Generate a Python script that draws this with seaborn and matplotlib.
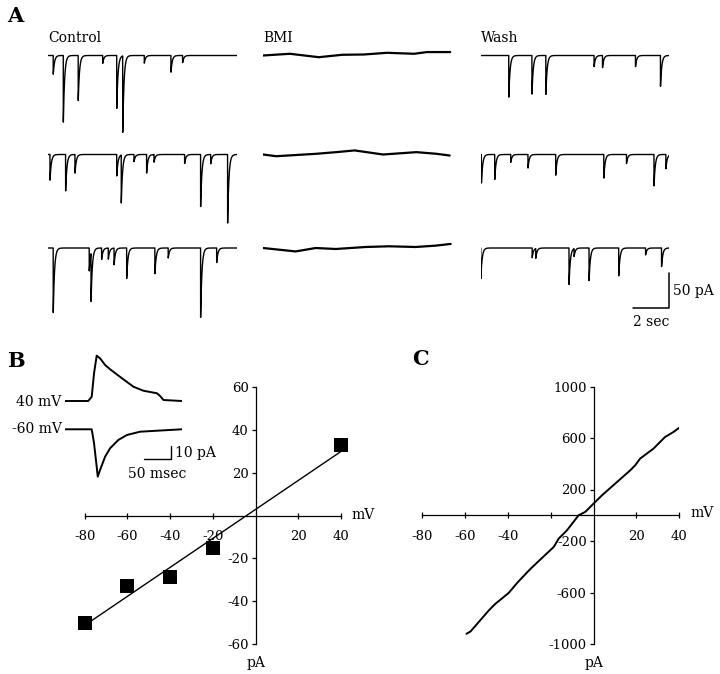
import numpy as np
import pandas as pd
import seaborn as sns
import matplotlib.pyplot as plt

# ---- panel A: synaptic events (time in s, amplitude in pA, inward)
control_times = [
    [0.29, 0.85, 1.68, 3.04, 3.82, 4.15, 5.35, 6.83, 7.48],
    [0.11, 0.98, 1.50, 3.82, 4.07, 4.78, 5.48, 5.89, 7.59, 8.48, 9.04, 9.98],
    [0.29, 2.29, 2.39, 2.98, 3.35, 3.67, 4.37, 5.94, 6.68, 8.48, 9.37],
]
control_amps = [
    [27, 96, 63, 11, 74, 110, 11, 24, 10],
    [37, 51, 26, 30, 69, 10, 26, 11, 13, 73, 13, 96],
    [93, 33, 69, 16, 16, 24, 44, 36, 14, 97, 21],
]
wash_times = [
    [1.57, 2.86, 3.63, 6.31, 6.78, 8.61, 10.0],
    [0.05, 0.79, 1.68, 2.64, 4.18, 6.85, 8.11, 9.64, 10.3],
    [0.02, 2.87, 3.07, 4.92, 5.20, 6.03, 7.68, 9.17, 10.06],
]
wash_amps = [
    [60, 54, 56, 16, 17, 16, 43],
    [41, 36, 11, 19, 29, 34, 13, 44, 20],
    [43, 14, 14, 51, 11, 47, 39, 10, 26],
]
# BMI sweeps: slow baseline wander only
bmi_times = [
    [0, 1.5, 3.1, 4.4, 5.6, 6.9, 8.4, 9.1, 10.4],
    [0, 0.74, 2.96, 4.07, 5.09, 6.67, 8.52, 9.63, 10.37],
    [0, 1.81, 2.93, 4.04, 5.7, 7.0, 8.48, 9.59, 10.43],
]
bmi_vals = [
    [0, 2.4, -2.4, 1.0, 1.4, 3.8, 2.4, 4.8, 4.8],
    [0, -2.4, 1.0, 3.3, 5.7, 0, 3.3, 1.0, -1.4],
    [0, -4.8, 0, -1.4, 1.4, 2.4, 1.4, 3.3, 5.7],
]
col_names = ["Control", "BMI", "Wash"]

# ---- panel B inset: averaged sEPSCs (ms, pA)
inset_40_t = [0, 44, 50.6, 55, 60, 66.4, 76, 85.4, 104, 129.6, 148.6, 174, 180, 186.5, 221]
inset_40_i = [0, 0, 3.2, 20.8, 34, 32, 27, 23.8, 18.2, 10.7, 7.7, 5.8, 3.8, 0.75, 0]
inset_60_t = [0, 50.6, 55, 60, 62, 66.4, 76, 85.4, 101, 117, 142, 221]
inset_60_i = [0, 0, -10.5, -28, -35.5, -30.5, -20.5, -14.2, -8, -4.3, -1.8, 0]

# ---- panel B: I-V of sEPSC amplitude
b_mv = [-80, -60, -40, -20, 40]
b_pa = [-50, -33, -28.5, -15.3, 33]

# ---- panel C: ramp I-V
c_mv = [-59.4, -57.5, -49, -45.9, -39.7, -35.8, -29.6, -23.3, -18.6, -16.3, -12.4, -7,
        -3.9, 0, 3.9, 10.9, 17.1, 19.4, 21.7, 27.9, 33.3, 37.2, 40]
c_pa = [-921, -903, -740, -688, -604, -527, -418, -319, -246, -181, -116, 0,
        26, 91, 155, 258, 349, 388, 440, 517, 607, 646, 680]

W, H = 720, 674
sns.set_theme(style="ticks")
plt.rcParams["font.family"] = ["DejaVu Serif"]
plt.rcParams["axes.unicode_minus"] = False
plt.rcParams["text.color"] = "black"
plt.rcParams["axes.edgecolor"] = "black"
plt.rcParams["xtick.color"] = "black"
plt.rcParams["ytick.color"] = "black"


def box(x0, y0, x1, y1):
    return [x0 / W, 1 - y1 / H, (x1 - x0) / W, (y1 - y0) / H]


def ftext(fig, x, y, s, **kw):
    fig.text(x / W, 1 - y / H, s, **kw)


def sweep(times, amps, tau=0.07):
    t = np.arange(0, 10.5, 0.004)
    y = np.zeros_like(t)
    for t0, a in zip(times, amps):
        m = t >= t0
        y[m] -= a * np.exp(-(t[m] - t0) / tau)
    return pd.DataFrame({"t": t, "i": y})


fig = plt.figure(figsize=(W / 100, H / 100), dpi=100)

# ---------------- panel A
px_s, px_pa = 18.0, 35.7 / 50
col_x = [48, 263, 480.5]
row_y = [55.5, 154.5, 248]
for c in range(3):
    for r in range(3):
        yb = row_y[r]
        ax = fig.add_axes(box(col_x[c], yb - 10 * px_pa, col_x[c] + 10.5 * px_s, yb + 115 * px_pa))
        if c == 1:
            df = pd.DataFrame({"t": bmi_times[r], "i": bmi_vals[r]})
            lw = 1.6
        elif c == 0:
            df = sweep(control_times[r], control_amps[r])
            lw = 1.0
        else:
            df = sweep(wash_times[r], wash_amps[r])
            lw = 1.0
        sns.lineplot(data=df, x="t", y="i", ax=ax, color="black", lw=lw,
                     estimator=None, sort=False)
        ax.set_xlim(0, 10.5)
        ax.set_ylim(-115, 10)
        ax.axis("off")
        if c == 2 and r == 2:
            xs = (669.3 - col_x[2]) / px_s
            top = -(272.7 - yb) / px_pa
            bot = -(308.3 - yb) / px_pa
            ax.plot([xs - 2, xs, xs], [bot, bot, top], color="black", lw=1.1, clip_on=False)
            ax.text(xs + 0.2, (top + bot) / 2, "50 pA", fontsize=10, va="center", ha="left")
            ax.text(xs - 1, -(322 - yb) / px_pa, "2 sec", fontsize=10, va="center", ha="center")

for name, x in zip(col_names, col_x):
    ftext(fig, x, 41.5, name, fontsize=10, va="baseline", ha="left")

ftext(fig, 7, 22, "A", fontsize=15, fontweight="bold", va="baseline")
ftext(fig, 7, 367, "B", fontsize=15, fontweight="bold", va="baseline")
ftext(fig, 412, 365, "C", fontsize=15, fontweight="bold", va="baseline")


def iv_axes(rect, xticks, xlabels, yticks, ylabels, ylim):
    ax = fig.add_axes(rect)
    ax.set_xlim(-80, 40)
    ax.set_ylim(*ylim)
    for s in ["top", "right"]:
        ax.spines[s].set_visible(False)
    ax.spines["left"].set_position(("data", 0))
    ax.spines["bottom"].set_position(("data", 0))
    ax.spines["left"].set_linewidth(0.9)
    ax.spines["bottom"].set_linewidth(0.9)
    ax.set_xticks(xticks)
    ax.set_xticklabels(xlabels)
    ax.set_yticks(yticks)
    ax.set_yticklabels(ylabels)
    ax.tick_params(axis="x", direction="inout", length=5, width=0.9, pad=8, labelsize=9.5)
    ax.tick_params(axis="y", direction="out", length=3, width=0.9, pad=2, labelsize=9.5)
    ax.set_xlabel("")
    ax.set_ylabel("")
    ax.patch.set_alpha(0)
    return ax


# ---------------- panel B
axB = iv_axes(box(84.7, 387.3, 341, 644),
              [-80, -60, -40, -20, 20, 40], ["-80", "-60", "-40", "-20", "20", "40"],
              [-60, -40, -20, 20, 40, 60], ["-60", "-40", "-20", "20", "40", "60"], (-60, 60))
sns.regplot(x=np.array(b_mv), y=np.array(b_pa), ax=axB, ci=None, marker="s",
            scatter_kws={"s": 95, "color": "black", "alpha": 1, "linewidths": 0,
                         "zorder": 3, "clip_on": False},
            line_kws={"color": "black", "lw": 1.0})
axB.set_xlabel("")
axB.set_ylabel("")
ftext(fig, 351, 515, "mV", fontsize=10, va="center", ha="left")
ftext(fig, 256.5, 663, "pA", fontsize=10, va="center", ha="center")

# inset traces
axI = fig.add_axes(box(65, 350, 181.7, 482))
off40 = (429.3 - 401) / 1.333
sns.lineplot(x=inset_40_t, y=np.array(inset_40_i) + off40, ax=axI, color="black", lw=1.4,
             estimator=None, sort=False)
sns.lineplot(x=inset_60_t, y=inset_60_i, ax=axI, color="black", lw=1.4,
             estimator=None, sort=False)
axI.set_xlim(0, 221)
axI.set_ylim((429.3 - 482) / 1.333, (429.3 - 350) / 1.333)
axI.axis("off")
axI.plot([150, 200, 200], [-22.5, -22.5, -12.5], color="black", lw=1.0, clip_on=False)
axI.text(208, -17.5, "10 pA", fontsize=10, va="center", ha="left")
axI.text(174, -33.5, "50 msec", fontsize=10, va="center", ha="center")
ftext(fig, 61.7, 401.5, "40 mV", fontsize=10, va="center", ha="right")
ftext(fig, 61.7, 429.3, "-60 mV", fontsize=10, va="center", ha="right")

# ---------------- panel C
axC = iv_axes(box(422.3, 386.5, 679.3, 644),
              [-80, -60, -40, -20, 20, 40], ["-80", "-60", "-40", "", "20", "40"],
              [-1000, -600, -200, 200, 600, 1000],
              ["-1000", "-600", "-200", "200", "600", "1000"], (-1000, 1000))
sns.lineplot(x=c_mv, y=c_pa, ax=axC, color="black", lw=1.4, estimator=None, sort=False)
axC.set_xlabel("")
axC.set_ylabel("")
ftext(fig, 690, 513, "mV", fontsize=10, va="center", ha="left")
ftext(fig, 594, 663, "pA", fontsize=10, va="center", ha="center")

fig.savefig("out.png", dpi=100, facecolor="white")
